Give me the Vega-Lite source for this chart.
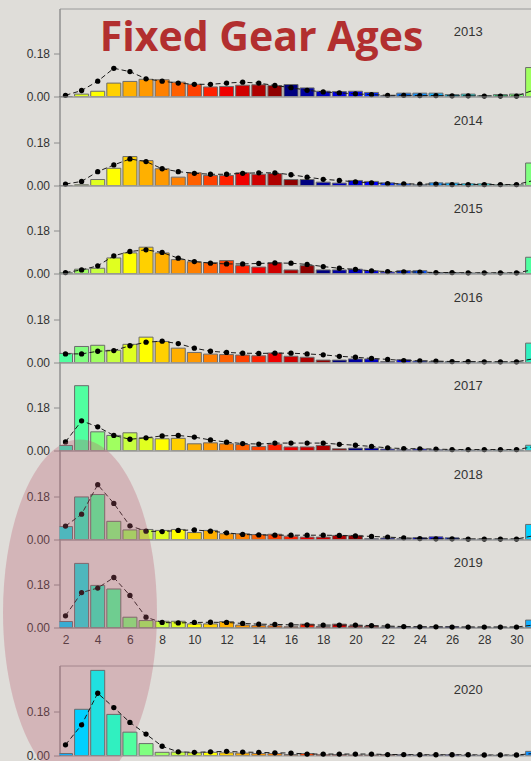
{
"$schema": "https://vega.github.io/schema/vega-lite/v6.json",
"background": "#dfddd9",
"padding": {"left": 2.5, "top": 7.5, "right": 0, "bottom": 0},
"spacing": 0,
"bounds": "flush",
"config": {
  "view": {"stroke": "#9a9a9a", "strokeWidth": 1},
  "axis": {"labelFont": "Liberation Sans", "labelFontSize": 12, "labelColor": "#333333", "domainColor": "#8c8c8c", "tickColor": "#8c8c8c", "grid": false}
},
"datasets": {"ages": [
{"year":2013,"age":2,"cohort":2011,"obs":0.000,"exp":0.005},
{"year":2013,"age":3,"cohort":2010,"obs":0.010,"exp":0.025},
{"year":2013,"age":4,"cohort":2009,"obs":0.022,"exp":0.064},
{"year":2013,"age":5,"cohort":2008,"obs":0.056,"exp":0.118},
{"year":2013,"age":6,"cohort":2007,"obs":0.063,"exp":0.104},
{"year":2013,"age":7,"cohort":2006,"obs":0.072,"exp":0.074},
{"year":2013,"age":8,"cohort":2005,"obs":0.070,"exp":0.064},
{"year":2013,"age":9,"cohort":2004,"obs":0.060,"exp":0.056},
{"year":2013,"age":10,"cohort":2003,"obs":0.051,"exp":0.051},
{"year":2013,"age":11,"cohort":2002,"obs":0.040,"exp":0.051},
{"year":2013,"age":12,"cohort":2001,"obs":0.042,"exp":0.056},
{"year":2013,"age":13,"cohort":2000,"obs":0.047,"exp":0.060},
{"year":2013,"age":14,"cohort":1999,"obs":0.049,"exp":0.056},
{"year":2013,"age":15,"cohort":1998,"obs":0.046,"exp":0.046},
{"year":2013,"age":16,"cohort":1997,"obs":0.050,"exp":0.037},
{"year":2013,"age":17,"cohort":1996,"obs":0.036,"exp":0.026},
{"year":2013,"age":18,"cohort":1995,"obs":0.022,"exp":0.019},
{"year":2013,"age":19,"cohort":1994,"obs":0.021,"exp":0.015},
{"year":2013,"age":20,"cohort":1993,"obs":0.022,"exp":0.011},
{"year":2013,"age":21,"cohort":1992,"obs":0.017,"exp":0.008},
{"year":2013,"age":22,"cohort":1991,"obs":0.004,"exp":0.005},
{"year":2013,"age":23,"cohort":1990,"obs":0.014,"exp":0.005},
{"year":2013,"age":24,"cohort":1989,"obs":0.014,"exp":0.004},
{"year":2013,"age":25,"cohort":1988,"obs":0.014,"exp":0.004},
{"year":2013,"age":26,"cohort":1987,"obs":0.008,"exp":0.003},
{"year":2013,"age":27,"cohort":1986,"obs":0.010,"exp":0.003},
{"year":2013,"age":28,"cohort":1985,"obs":0.003,"exp":0.002},
{"year":2013,"age":29,"cohort":1984,"obs":0.008,"exp":0.002},
{"year":2013,"age":30,"cohort":1983,"obs":0.010,"exp":0.002},
{"year":2013,"age":31,"cohort":1982,"obs":0.121,"exp":0.025},
{"year":2014,"age":2,"cohort":2012,"obs":0.000,"exp":0.006},
{"year":2014,"age":3,"cohort":2011,"obs":0.003,"exp":0.017},
{"year":2014,"age":4,"cohort":2010,"obs":0.025,"exp":0.058},
{"year":2014,"age":5,"cohort":2009,"obs":0.072,"exp":0.086},
{"year":2014,"age":6,"cohort":2008,"obs":0.121,"exp":0.111},
{"year":2014,"age":7,"cohort":2007,"obs":0.104,"exp":0.100},
{"year":2014,"age":8,"cohort":2006,"obs":0.070,"exp":0.070},
{"year":2014,"age":9,"cohort":2005,"obs":0.035,"exp":0.058},
{"year":2014,"age":10,"cohort":2004,"obs":0.053,"exp":0.051},
{"year":2014,"age":11,"cohort":2003,"obs":0.042,"exp":0.047},
{"year":2014,"age":12,"cohort":2002,"obs":0.042,"exp":0.047},
{"year":2014,"age":13,"cohort":2001,"obs":0.053,"exp":0.051},
{"year":2014,"age":14,"cohort":2000,"obs":0.047,"exp":0.053},
{"year":2014,"age":15,"cohort":1999,"obs":0.050,"exp":0.053},
{"year":2014,"age":16,"cohort":1998,"obs":0.025,"exp":0.045},
{"year":2014,"age":17,"cohort":1997,"obs":0.025,"exp":0.035},
{"year":2014,"age":18,"cohort":1996,"obs":0.014,"exp":0.026},
{"year":2014,"age":19,"cohort":1995,"obs":0.010,"exp":0.021},
{"year":2014,"age":20,"cohort":1994,"obs":0.021,"exp":0.015},
{"year":2014,"age":21,"cohort":1993,"obs":0.017,"exp":0.011},
{"year":2014,"age":22,"cohort":1992,"obs":0.011,"exp":0.008},
{"year":2014,"age":23,"cohort":1991,"obs":0.007,"exp":0.007},
{"year":2014,"age":24,"cohort":1990,"obs":0.003,"exp":0.006},
{"year":2014,"age":25,"cohort":1989,"obs":0.011,"exp":0.006},
{"year":2014,"age":26,"cohort":1988,"obs":0.010,"exp":0.004},
{"year":2014,"age":27,"cohort":1987,"obs":0.007,"exp":0.004},
{"year":2014,"age":28,"cohort":1986,"obs":0.007,"exp":0.004},
{"year":2014,"age":29,"cohort":1985,"obs":0.003,"exp":0.004},
{"year":2014,"age":30,"cohort":1984,"obs":0.003,"exp":0.004},
{"year":2014,"age":31,"cohort":1983,"obs":0.094,"exp":0.020},
{"year":2015,"age":2,"cohort":2013,"obs":0.003,"exp":0.004},
{"year":2015,"age":3,"cohort":2012,"obs":0.018,"exp":0.015},
{"year":2015,"age":4,"cohort":2011,"obs":0.022,"exp":0.032},
{"year":2015,"age":5,"cohort":2010,"obs":0.065,"exp":0.074},
{"year":2015,"age":6,"cohort":2009,"obs":0.086,"exp":0.092},
{"year":2015,"age":7,"cohort":2008,"obs":0.110,"exp":0.099},
{"year":2015,"age":8,"cohort":2007,"obs":0.086,"exp":0.088},
{"year":2015,"age":9,"cohort":2006,"obs":0.058,"exp":0.064},
{"year":2015,"age":10,"cohort":2005,"obs":0.049,"exp":0.050},
{"year":2015,"age":11,"cohort":2004,"obs":0.046,"exp":0.043},
{"year":2015,"age":12,"cohort":2003,"obs":0.054,"exp":0.040},
{"year":2015,"age":13,"cohort":2002,"obs":0.033,"exp":0.040},
{"year":2015,"age":14,"cohort":2001,"obs":0.027,"exp":0.042},
{"year":2015,"age":15,"cohort":2000,"obs":0.045,"exp":0.044},
{"year":2015,"age":16,"cohort":1999,"obs":0.015,"exp":0.043},
{"year":2015,"age":17,"cohort":1998,"obs":0.033,"exp":0.038},
{"year":2015,"age":18,"cohort":1997,"obs":0.015,"exp":0.029},
{"year":2015,"age":19,"cohort":1996,"obs":0.015,"exp":0.022},
{"year":2015,"age":20,"cohort":1995,"obs":0.018,"exp":0.017},
{"year":2015,"age":21,"cohort":1994,"obs":0.012,"exp":0.011},
{"year":2015,"age":22,"cohort":1993,"obs":0.006,"exp":0.008},
{"year":2015,"age":23,"cohort":1992,"obs":0.012,"exp":0.007},
{"year":2015,"age":24,"cohort":1991,"obs":0.012,"exp":0.006},
{"year":2015,"age":25,"cohort":1990,"obs":0.004,"exp":0.004},
{"year":2015,"age":26,"cohort":1989,"obs":0.004,"exp":0.004},
{"year":2015,"age":27,"cohort":1988,"obs":0.002,"exp":0.003},
{"year":2015,"age":28,"cohort":1987,"obs":0.002,"exp":0.003},
{"year":2015,"age":29,"cohort":1986,"obs":0.002,"exp":0.003},
{"year":2015,"age":30,"cohort":1985,"obs":0.002,"exp":0.003},
{"year":2015,"age":31,"cohort":1984,"obs":0.068,"exp":0.015},
{"year":2016,"age":2,"cohort":2014,"obs":0.038,"exp":0.036},
{"year":2016,"age":3,"cohort":2013,"obs":0.067,"exp":0.036},
{"year":2016,"age":4,"cohort":2012,"obs":0.072,"exp":0.047},
{"year":2016,"age":5,"cohort":2011,"obs":0.051,"exp":0.050},
{"year":2016,"age":6,"cohort":2010,"obs":0.076,"exp":0.070},
{"year":2016,"age":7,"cohort":2009,"obs":0.106,"exp":0.085},
{"year":2016,"age":8,"cohort":2008,"obs":0.088,"exp":0.089},
{"year":2016,"age":9,"cohort":2007,"obs":0.060,"exp":0.079},
{"year":2016,"age":10,"cohort":2006,"obs":0.042,"exp":0.060},
{"year":2016,"age":11,"cohort":2005,"obs":0.035,"exp":0.047},
{"year":2016,"age":12,"cohort":2004,"obs":0.033,"exp":0.042},
{"year":2016,"age":13,"cohort":2003,"obs":0.031,"exp":0.039},
{"year":2016,"age":14,"cohort":2002,"obs":0.028,"exp":0.038},
{"year":2016,"age":15,"cohort":2001,"obs":0.040,"exp":0.039},
{"year":2016,"age":16,"cohort":2000,"obs":0.026,"exp":0.039},
{"year":2016,"age":17,"cohort":1999,"obs":0.022,"exp":0.036},
{"year":2016,"age":18,"cohort":1998,"obs":0.010,"exp":0.032},
{"year":2016,"age":19,"cohort":1997,"obs":0.010,"exp":0.026},
{"year":2016,"age":20,"cohort":1996,"obs":0.015,"exp":0.022},
{"year":2016,"age":21,"cohort":1995,"obs":0.015,"exp":0.017},
{"year":2016,"age":22,"cohort":1994,"obs":0.004,"exp":0.013},
{"year":2016,"age":23,"cohort":1993,"obs":0.012,"exp":0.008},
{"year":2016,"age":24,"cohort":1992,"obs":0.006,"exp":0.007},
{"year":2016,"age":25,"cohort":1991,"obs":0.004,"exp":0.006},
{"year":2016,"age":26,"cohort":1990,"obs":0.003,"exp":0.004},
{"year":2016,"age":27,"cohort":1989,"obs":0.002,"exp":0.004},
{"year":2016,"age":28,"cohort":1988,"obs":0.002,"exp":0.003},
{"year":2016,"age":29,"cohort":1987,"obs":0.002,"exp":0.003},
{"year":2016,"age":30,"cohort":1986,"obs":0.002,"exp":0.003},
{"year":2016,"age":31,"cohort":1985,"obs":0.081,"exp":0.015},
{"year":2017,"age":2,"cohort":2015,"obs":0.021,"exp":0.036},
{"year":2017,"age":3,"cohort":2014,"obs":0.271,"exp":0.124},
{"year":2017,"age":4,"cohort":2013,"obs":0.078,"exp":0.099},
{"year":2017,"age":5,"cohort":2012,"obs":0.063,"exp":0.063},
{"year":2017,"age":6,"cohort":2011,"obs":0.074,"exp":0.047},
{"year":2017,"age":7,"cohort":2010,"obs":0.053,"exp":0.053},
{"year":2017,"age":8,"cohort":2009,"obs":0.049,"exp":0.061},
{"year":2017,"age":9,"cohort":2008,"obs":0.051,"exp":0.063},
{"year":2017,"age":10,"cohort":2007,"obs":0.028,"exp":0.056},
{"year":2017,"age":11,"cohort":2006,"obs":0.032,"exp":0.044},
{"year":2017,"age":12,"cohort":2005,"obs":0.028,"exp":0.035},
{"year":2017,"age":13,"cohort":2004,"obs":0.025,"exp":0.029},
{"year":2017,"age":14,"cohort":2003,"obs":0.017,"exp":0.027},
{"year":2017,"age":15,"cohort":2002,"obs":0.026,"exp":0.031},
{"year":2017,"age":16,"cohort":2001,"obs":0.015,"exp":0.031},
{"year":2017,"age":17,"cohort":2000,"obs":0.015,"exp":0.031},
{"year":2017,"age":18,"cohort":1999,"obs":0.021,"exp":0.031},
{"year":2017,"age":19,"cohort":1998,"obs":0.007,"exp":0.026},
{"year":2017,"age":20,"cohort":1997,"obs":0.010,"exp":0.022},
{"year":2017,"age":21,"cohort":1996,"obs":0.010,"exp":0.017},
{"year":2017,"age":22,"cohort":1995,"obs":0.006,"exp":0.011},
{"year":2017,"age":23,"cohort":1994,"obs":0.003,"exp":0.008},
{"year":2017,"age":24,"cohort":1993,"obs":0.006,"exp":0.007},
{"year":2017,"age":25,"cohort":1992,"obs":0.003,"exp":0.006},
{"year":2017,"age":26,"cohort":1991,"obs":0.002,"exp":0.004},
{"year":2017,"age":27,"cohort":1990,"obs":0.002,"exp":0.004},
{"year":2017,"age":28,"cohort":1989,"obs":0.002,"exp":0.004},
{"year":2017,"age":29,"cohort":1988,"obs":0.002,"exp":0.004},
{"year":2017,"age":30,"cohort":1987,"obs":0.002,"exp":0.004},
{"year":2017,"age":31,"cohort":1986,"obs":0.022,"exp":0.015},
{"year":2018,"age":2,"cohort":2016,"obs":0.054,"exp":0.056},
{"year":2018,"age":3,"cohort":2015,"obs":0.178,"exp":0.106},
{"year":2018,"age":4,"cohort":2014,"obs":0.188,"exp":0.229},
{"year":2018,"age":5,"cohort":2013,"obs":0.076,"exp":0.151},
{"year":2018,"age":6,"cohort":2012,"obs":0.040,"exp":0.057},
{"year":2018,"age":7,"cohort":2011,"obs":0.042,"exp":0.035},
{"year":2018,"age":8,"cohort":2010,"obs":0.038,"exp":0.033},
{"year":2018,"age":9,"cohort":2009,"obs":0.042,"exp":0.038},
{"year":2018,"age":10,"cohort":2008,"obs":0.029,"exp":0.040},
{"year":2018,"age":11,"cohort":2007,"obs":0.038,"exp":0.035},
{"year":2018,"age":12,"cohort":2006,"obs":0.024,"exp":0.028},
{"year":2018,"age":13,"cohort":2005,"obs":0.024,"exp":0.021},
{"year":2018,"age":14,"cohort":2004,"obs":0.021,"exp":0.019},
{"year":2018,"age":15,"cohort":2003,"obs":0.022,"exp":0.018},
{"year":2018,"age":16,"cohort":2002,"obs":0.014,"exp":0.018},
{"year":2018,"age":17,"cohort":2001,"obs":0.010,"exp":0.018},
{"year":2018,"age":18,"cohort":2000,"obs":0.010,"exp":0.018},
{"year":2018,"age":19,"cohort":1999,"obs":0.017,"exp":0.017},
{"year":2018,"age":20,"cohort":1998,"obs":0.017,"exp":0.015},
{"year":2018,"age":21,"cohort":1997,"obs":0.003,"exp":0.013},
{"year":2018,"age":22,"cohort":1996,"obs":0.006,"exp":0.010},
{"year":2018,"age":23,"cohort":1995,"obs":0.003,"exp":0.007},
{"year":2018,"age":24,"cohort":1994,"obs":0.008,"exp":0.004},
{"year":2018,"age":25,"cohort":1993,"obs":0.011,"exp":0.003},
{"year":2018,"age":26,"cohort":1992,"obs":0.007,"exp":0.003},
{"year":2018,"age":27,"cohort":1991,"obs":0.002,"exp":0.002},
{"year":2018,"age":28,"cohort":1990,"obs":0.002,"exp":0.002},
{"year":2018,"age":29,"cohort":1989,"obs":0.002,"exp":0.002},
{"year":2018,"age":30,"cohort":1988,"obs":0.002,"exp":0.002},
{"year":2018,"age":31,"cohort":1987,"obs":0.063,"exp":0.015},
{"year":2019,"age":2,"cohort":2017,"obs":0.025,"exp":0.049},
{"year":2019,"age":3,"cohort":2016,"obs":0.268,"exp":0.146},
{"year":2019,"age":4,"cohort":2015,"obs":0.176,"exp":0.165},
{"year":2019,"age":5,"cohort":2014,"obs":0.161,"exp":0.209},
{"year":2019,"age":6,"cohort":2013,"obs":0.043,"exp":0.134},
{"year":2019,"age":7,"cohort":2012,"obs":0.029,"exp":0.043},
{"year":2019,"age":8,"cohort":2011,"obs":0.026,"exp":0.021},
{"year":2019,"age":9,"cohort":2010,"obs":0.026,"exp":0.019},
{"year":2019,"age":10,"cohort":2009,"obs":0.015,"exp":0.021},
{"year":2019,"age":11,"cohort":2008,"obs":0.015,"exp":0.022},
{"year":2019,"age":12,"cohort":2007,"obs":0.025,"exp":0.021},
{"year":2019,"age":13,"cohort":2006,"obs":0.010,"exp":0.017},
{"year":2019,"age":14,"cohort":2005,"obs":0.008,"exp":0.014},
{"year":2019,"age":15,"cohort":2004,"obs":0.007,"exp":0.013},
{"year":2019,"age":16,"cohort":2003,"obs":0.003,"exp":0.011},
{"year":2019,"age":17,"cohort":2002,"obs":0.014,"exp":0.011},
{"year":2019,"age":18,"cohort":2001,"obs":0.004,"exp":0.010},
{"year":2019,"age":19,"cohort":2000,"obs":0.014,"exp":0.010},
{"year":2019,"age":20,"cohort":1999,"obs":0.006,"exp":0.010},
{"year":2019,"age":21,"cohort":1998,"obs":0.006,"exp":0.008},
{"year":2019,"age":22,"cohort":1997,"obs":0.002,"exp":0.006},
{"year":2019,"age":23,"cohort":1996,"obs":0.002,"exp":0.004},
{"year":2019,"age":24,"cohort":1995,"obs":0.002,"exp":0.003},
{"year":2019,"age":25,"cohort":1994,"obs":0.002,"exp":0.003},
{"year":2019,"age":26,"cohort":1993,"obs":0.003,"exp":0.002},
{"year":2019,"age":27,"cohort":1992,"obs":0.001,"exp":0.002},
{"year":2019,"age":28,"cohort":1991,"obs":0.001,"exp":0.002},
{"year":2019,"age":29,"cohort":1990,"obs":0.001,"exp":0.002},
{"year":2019,"age":30,"cohort":1989,"obs":0.001,"exp":0.002},
{"year":2019,"age":31,"cohort":1988,"obs":0.031,"exp":0.010},
{"year":2020,"age":2,"cohort":2018,"obs":0.008,"exp":0.044},
{"year":2020,"age":3,"cohort":2017,"obs":0.190,"exp":0.126},
{"year":2020,"age":4,"cohort":2016,"obs":0.350,"exp":0.256},
{"year":2020,"age":5,"cohort":2015,"obs":0.169,"exp":0.197},
{"year":2020,"age":6,"cohort":2014,"obs":0.096,"exp":0.136},
{"year":2020,"age":7,"cohort":2013,"obs":0.049,"exp":0.088},
{"year":2020,"age":8,"cohort":2012,"obs":0.013,"exp":0.038},
{"year":2020,"age":9,"cohort":2011,"obs":0.014,"exp":0.015},
{"year":2020,"age":10,"cohort":2010,"obs":0.011,"exp":0.013},
{"year":2020,"age":11,"cohort":2009,"obs":0.013,"exp":0.015},
{"year":2020,"age":12,"cohort":2008,"obs":0.011,"exp":0.017},
{"year":2020,"age":13,"cohort":2007,"obs":0.010,"exp":0.014},
{"year":2020,"age":14,"cohort":2006,"obs":0.008,"exp":0.013},
{"year":2020,"age":15,"cohort":2005,"obs":0.008,"exp":0.011},
{"year":2020,"age":16,"cohort":2004,"obs":0.004,"exp":0.010},
{"year":2020,"age":17,"cohort":2003,"obs":0.008,"exp":0.006},
{"year":2020,"age":18,"cohort":2002,"obs":0.003,"exp":0.006},
{"year":2020,"age":19,"cohort":2001,"obs":0.004,"exp":0.006},
{"year":2020,"age":20,"cohort":2000,"obs":0.002,"exp":0.006},
{"year":2020,"age":21,"cohort":1999,"obs":0.002,"exp":0.006},
{"year":2020,"age":22,"cohort":1998,"obs":0.004,"exp":0.004},
{"year":2020,"age":23,"cohort":1997,"obs":0.003,"exp":0.004},
{"year":2020,"age":24,"cohort":1996,"obs":0.002,"exp":0.003},
{"year":2020,"age":25,"cohort":1995,"obs":0.002,"exp":0.003},
{"year":2020,"age":26,"cohort":1994,"obs":0.003,"exp":0.003},
{"year":2020,"age":27,"cohort":1993,"obs":0.001,"exp":0.003},
{"year":2020,"age":28,"cohort":1992,"obs":0.001,"exp":0.002},
{"year":2020,"age":29,"cohort":1991,"obs":0.001,"exp":0.002},
{"year":2020,"age":30,"cohort":1990,"obs":0.001,"exp":0.002},
{"year":2020,"age":31,"cohort":1989,"obs":0.017,"exp":0.008}
]},
"resolve": {"scale": {"color": "shared"}},
"vconcat": [
{"data": {"name": "ages"}, "transform": [{"filter": "datum.year == 2013"}], "width": 471.5, "height": 88, "resolve": {"axis": {"x": "independent", "y": "independent"}}, "layer": [
 {"mark": {"type": "bar", "orient": "vertical", "size": 14, "stroke": "#6b6b6b", "strokeWidth": 1, "clip": true}, "encoding": {"x": {"field": "age", "type": "quantitative", "scale": {"domain": [1.6275, 30.9], "nice": false, "zero": false, "padding": 0}, "axis": null}, "y": {"field": "obs", "type": "quantitative", "scale": {"domain": [0, 0.3679], "nice": false}, "axis": {"values": [0, 0.18], "format": ".2f", "tickSize": 6, "labelPadding": 4, "title": null}}, "color": {"field": "cohort", "type": "ordinal", "legend": null, "scale": {"range": ["#a0ff60","#80ff80","#50ffa0","#30f0c0","#20e0e0","#00d0ff","#10b0ff","#1090ff","#0070ff","#0050ff","#0028ff","#0000ff","#0000e0","#0000c0","#0000a0","#000080","#900000","#b00000","#d00000","#f00000","#ff2000","#ff4000","#ff6000","#ff8000","#ff9900","#ffb000","#ffd000","#ffff00","#e0ff20","#c8ff40","#a0ff60","#80ff80","#50ffa0","#30f0c0","#20e0e0","#00d0ff","#10b0ff"]}}}},
 {"mark": {"type": "line", "color": "#1a1a1a", "strokeWidth": 1, "strokeDash": [5, 3], "clip": true}, "encoding": {"x": {"field": "age", "type": "quantitative", "axis": null}, "y": {"field": "exp", "type": "quantitative", "axis": null}, "order": {"field": "age", "type": "quantitative"}}},
 {"transform": [{"filter": "datum.age <= 30"}], "mark": {"type": "circle", "color": "#000000", "size": 28, "opacity": 1}, "encoding": {"x": {"field": "age", "type": "quantitative", "axis": null}, "y": {"field": "exp", "type": "quantitative", "axis": null}}},
 {"transform": [{"filter": "datum.age == 2"}], "mark": {"type": "text", "font": "Liberation Sans", "fontSize": 13, "color": "#333333", "align": "center", "baseline": "alphabetic"}, "encoding": {"x": {"datum": 27, "axis": null}, "y": {"datum": 0.254, "axis": null}, "text": {"field": "year", "type": "nominal"}}},
 {"transform": [{"filter": "datum.age == 2"}], "mark": {"type": "text", "text": "Fixed Gear Ages", "font": "Open Sans", "fontWeight": "bold", "fontSize": 41, "color": "#b22f2f", "align": "center", "baseline": "alphabetic"}, "encoding": {"x": {"datum": 14.17, "axis": null}, "y": {"datum": 0.1915, "axis": null}}}
]},
{"data": {"name": "ages"}, "transform": [{"filter": "datum.year == 2014"}], "width": 471.5, "height": 89, "resolve": {"axis": {"x": "independent", "y": "independent"}}, "layer": [
 {"mark": {"type": "bar", "orient": "vertical", "size": 14, "stroke": "#6b6b6b", "strokeWidth": 1, "clip": true}, "encoding": {"x": {"field": "age", "type": "quantitative", "scale": {"domain": [1.6275, 30.9], "nice": false, "zero": false, "padding": 0}, "axis": null}, "y": {"field": "obs", "type": "quantitative", "scale": {"domain": [0, 0.3721], "nice": false}, "axis": {"values": [0, 0.18], "format": ".2f", "tickSize": 6, "labelPadding": 4, "title": null}}, "color": {"field": "cohort", "type": "ordinal", "legend": null}}},
 {"mark": {"type": "line", "color": "#1a1a1a", "strokeWidth": 1, "strokeDash": [5, 3], "clip": true}, "encoding": {"x": {"field": "age", "type": "quantitative", "axis": null}, "y": {"field": "exp", "type": "quantitative", "axis": null}, "order": {"field": "age", "type": "quantitative"}}},
 {"transform": [{"filter": "datum.age <= 30"}], "mark": {"type": "circle", "color": "#000000", "size": 28, "opacity": 1}, "encoding": {"x": {"field": "age", "type": "quantitative", "axis": null}, "y": {"field": "exp", "type": "quantitative", "axis": null}}},
 {"transform": [{"filter": "datum.age == 2"}], "mark": {"type": "text", "font": "Liberation Sans", "fontSize": 13, "color": "#333333", "align": "center", "baseline": "alphabetic"}, "encoding": {"x": {"datum": 27, "axis": null}, "y": {"datum": 0.254, "axis": null}, "text": {"field": "year", "type": "nominal"}}}
]},
{"data": {"name": "ages"}, "transform": [{"filter": "datum.year == 2015"}], "width": 471.5, "height": 88, "resolve": {"axis": {"x": "independent", "y": "independent"}}, "layer": [
 {"mark": {"type": "bar", "orient": "vertical", "size": 14, "stroke": "#6b6b6b", "strokeWidth": 1, "clip": true}, "encoding": {"x": {"field": "age", "type": "quantitative", "scale": {"domain": [1.6275, 30.9], "nice": false, "zero": false, "padding": 0}, "axis": null}, "y": {"field": "obs", "type": "quantitative", "scale": {"domain": [0, 0.3679], "nice": false}, "axis": {"values": [0, 0.18], "format": ".2f", "tickSize": 6, "labelPadding": 4, "title": null}}, "color": {"field": "cohort", "type": "ordinal", "legend": null}}},
 {"mark": {"type": "line", "color": "#1a1a1a", "strokeWidth": 1, "strokeDash": [5, 3], "clip": true}, "encoding": {"x": {"field": "age", "type": "quantitative", "axis": null}, "y": {"field": "exp", "type": "quantitative", "axis": null}, "order": {"field": "age", "type": "quantitative"}}},
 {"transform": [{"filter": "datum.age <= 30"}], "mark": {"type": "circle", "color": "#000000", "size": 28, "opacity": 1}, "encoding": {"x": {"field": "age", "type": "quantitative", "axis": null}, "y": {"field": "exp", "type": "quantitative", "axis": null}}},
 {"transform": [{"filter": "datum.age == 2"}], "mark": {"type": "text", "font": "Liberation Sans", "fontSize": 13, "color": "#333333", "align": "center", "baseline": "alphabetic"}, "encoding": {"x": {"datum": 27, "axis": null}, "y": {"datum": 0.254, "axis": null}, "text": {"field": "year", "type": "nominal"}}}
]},
{"data": {"name": "ages"}, "transform": [{"filter": "datum.year == 2016"}], "width": 471.5, "height": 89, "resolve": {"axis": {"x": "independent", "y": "independent"}}, "layer": [
 {"mark": {"type": "bar", "orient": "vertical", "size": 14, "stroke": "#6b6b6b", "strokeWidth": 1, "clip": true}, "encoding": {"x": {"field": "age", "type": "quantitative", "scale": {"domain": [1.6275, 30.9], "nice": false, "zero": false, "padding": 0}, "axis": null}, "y": {"field": "obs", "type": "quantitative", "scale": {"domain": [0, 0.3721], "nice": false}, "axis": {"values": [0, 0.18], "format": ".2f", "tickSize": 6, "labelPadding": 4, "title": null}}, "color": {"field": "cohort", "type": "ordinal", "legend": null}}},
 {"mark": {"type": "line", "color": "#1a1a1a", "strokeWidth": 1, "strokeDash": [5, 3], "clip": true}, "encoding": {"x": {"field": "age", "type": "quantitative", "axis": null}, "y": {"field": "exp", "type": "quantitative", "axis": null}, "order": {"field": "age", "type": "quantitative"}}},
 {"transform": [{"filter": "datum.age <= 30"}], "mark": {"type": "circle", "color": "#000000", "size": 28, "opacity": 1}, "encoding": {"x": {"field": "age", "type": "quantitative", "axis": null}, "y": {"field": "exp", "type": "quantitative", "axis": null}}},
 {"transform": [{"filter": "datum.age == 2"}], "mark": {"type": "text", "font": "Liberation Sans", "fontSize": 13, "color": "#333333", "align": "center", "baseline": "alphabetic"}, "encoding": {"x": {"datum": 27, "axis": null}, "y": {"datum": 0.254, "axis": null}, "text": {"field": "year", "type": "nominal"}}}
]},
{"data": {"name": "ages"}, "transform": [{"filter": "datum.year == 2017"}], "width": 471.5, "height": 88, "resolve": {"axis": {"x": "independent", "y": "independent"}}, "layer": [
 {"mark": {"type": "bar", "orient": "vertical", "size": 14, "stroke": "#6b6b6b", "strokeWidth": 1, "clip": true}, "encoding": {"x": {"field": "age", "type": "quantitative", "scale": {"domain": [1.6275, 30.9], "nice": false, "zero": false, "padding": 0}, "axis": null}, "y": {"field": "obs", "type": "quantitative", "scale": {"domain": [0, 0.3679], "nice": false}, "axis": {"values": [0, 0.18], "format": ".2f", "tickSize": 6, "labelPadding": 4, "title": null}}, "color": {"field": "cohort", "type": "ordinal", "legend": null}}},
 {"mark": {"type": "line", "color": "#1a1a1a", "strokeWidth": 1, "strokeDash": [5, 3], "clip": true}, "encoding": {"x": {"field": "age", "type": "quantitative", "axis": null}, "y": {"field": "exp", "type": "quantitative", "axis": null}, "order": {"field": "age", "type": "quantitative"}}},
 {"transform": [{"filter": "datum.age <= 30"}], "mark": {"type": "circle", "color": "#000000", "size": 28, "opacity": 1}, "encoding": {"x": {"field": "age", "type": "quantitative", "axis": null}, "y": {"field": "exp", "type": "quantitative", "axis": null}}},
 {"transform": [{"filter": "datum.age == 2"}], "mark": {"type": "text", "font": "Liberation Sans", "fontSize": 13, "color": "#333333", "align": "center", "baseline": "alphabetic"}, "encoding": {"x": {"datum": 27, "axis": null}, "y": {"datum": 0.254, "axis": null}, "text": {"field": "year", "type": "nominal"}}}
]},
{"data": {"name": "ages"}, "transform": [{"filter": "datum.year == 2018"}], "width": 471.5, "height": 89, "resolve": {"axis": {"x": "independent", "y": "independent"}}, "layer": [
 {"mark": {"type": "bar", "orient": "vertical", "size": 14, "stroke": "#6b6b6b", "strokeWidth": 1, "clip": true}, "encoding": {"x": {"field": "age", "type": "quantitative", "scale": {"domain": [1.6275, 30.9], "nice": false, "zero": false, "padding": 0}, "axis": null}, "y": {"field": "obs", "type": "quantitative", "scale": {"domain": [0, 0.3721], "nice": false}, "axis": {"values": [0, 0.18], "format": ".2f", "tickSize": 6, "labelPadding": 4, "title": null}}, "color": {"field": "cohort", "type": "ordinal", "legend": null}}},
 {"mark": {"type": "line", "color": "#1a1a1a", "strokeWidth": 1, "strokeDash": [5, 3], "clip": true}, "encoding": {"x": {"field": "age", "type": "quantitative", "axis": null}, "y": {"field": "exp", "type": "quantitative", "axis": null}, "order": {"field": "age", "type": "quantitative"}}},
 {"transform": [{"filter": "datum.age <= 30"}], "mark": {"type": "circle", "color": "#000000", "size": 28, "opacity": 1}, "encoding": {"x": {"field": "age", "type": "quantitative", "axis": null}, "y": {"field": "exp", "type": "quantitative", "axis": null}}},
 {"transform": [{"filter": "datum.age == 2"}], "mark": {"type": "text", "font": "Liberation Sans", "fontSize": 13, "color": "#333333", "align": "center", "baseline": "alphabetic"}, "encoding": {"x": {"datum": 27, "axis": null}, "y": {"datum": 0.254, "axis": null}, "text": {"field": "year", "type": "nominal"}}}
]},
{"data": {"name": "ages"}, "transform": [{"filter": "datum.year == 2019"}], "width": 471.5, "height": 88, "resolve": {"axis": {"x": "independent", "y": "independent"}}, "layer": [
 {"mark": {"type": "bar", "orient": "vertical", "size": 14, "stroke": "#6b6b6b", "strokeWidth": 1, "clip": true}, "encoding": {"x": {"field": "age", "type": "quantitative", "scale": {"domain": [1.6275, 30.9], "nice": false, "zero": false, "padding": 0}, "axis": {"values": [2,4,6,8,10,12,14,16,18,20,22,24,26,28,30], "ticks": false, "tickSize": 0, "labelPadding": 7, "title": null}}, "y": {"field": "obs", "type": "quantitative", "scale": {"domain": [0, 0.3679], "nice": false}, "axis": {"values": [0, 0.18], "format": ".2f", "tickSize": 6, "labelPadding": 4, "title": null}}, "color": {"field": "cohort", "type": "ordinal", "legend": null}}},
 {"mark": {"type": "line", "color": "#1a1a1a", "strokeWidth": 1, "strokeDash": [5, 3], "clip": true}, "encoding": {"x": {"field": "age", "type": "quantitative", "axis": null}, "y": {"field": "exp", "type": "quantitative", "axis": null}, "order": {"field": "age", "type": "quantitative"}}},
 {"transform": [{"filter": "datum.age <= 30"}], "mark": {"type": "circle", "color": "#000000", "size": 28, "opacity": 1}, "encoding": {"x": {"field": "age", "type": "quantitative", "axis": null}, "y": {"field": "exp", "type": "quantitative", "axis": null}}},
 {"transform": [{"filter": "datum.age == 2"}], "mark": {"type": "text", "font": "Liberation Sans", "fontSize": 13, "color": "#333333", "align": "center", "baseline": "alphabetic"}, "encoding": {"x": {"datum": 27, "axis": null}, "y": {"datum": 0.254, "axis": null}, "text": {"field": "year", "type": "nominal"}}}
]},
{"data": {"values": [{"s": 1}]}, "width": 471.5, "height": 38, "view": {"stroke": null}, "mark": {"type": "text", "text": " "}},
{"data": {"name": "ages"}, "transform": [{"filter": "datum.year == 2020"}], "width": 471.5, "height": 90, "resolve": {"axis": {"x": "independent", "y": "independent"}}, "layer": [
 {"transform": [{"filter": "datum.age == 2"}], "mark": {"type": "point", "shape": "M -0.445 0 C -0.445 -0.5523 -0.2458 -1 0 -1 C 0.2458 -1 0.445 -0.5523 0.445 0 C 0.445 0.3535 0.3618 0.6812 0.2263 0.861 L -0.2263 0.861 C -0.3618 0.6812 -0.445 0.3535 -0.445 0 Z", "size": 119716, "filled": true, "color": "#b85a6e", "opacity": 0.3, "strokeWidth": 0}, "encoding": {"x": {"datum": 2.9, "axis": null}, "y": {"datum": 0.588, "axis": null}}},
 {"mark": {"type": "bar", "orient": "vertical", "size": 14, "stroke": "#6b6b6b", "strokeWidth": 1, "clip": true}, "encoding": {"x": {"field": "age", "type": "quantitative", "scale": {"domain": [1.6275, 30.9], "nice": false, "zero": false, "padding": 0}, "axis": null}, "y": {"field": "obs", "type": "quantitative", "scale": {"domain": [0, 0.37], "nice": false}, "axis": {"values": [0, 0.18], "format": ".2f", "tickSize": 6, "labelPadding": 4, "title": null}}, "color": {"field": "cohort", "type": "ordinal", "legend": null}}},
 {"mark": {"type": "line", "color": "#1a1a1a", "strokeWidth": 1, "strokeDash": [5, 3], "clip": true}, "encoding": {"x": {"field": "age", "type": "quantitative", "axis": null}, "y": {"field": "exp", "type": "quantitative", "axis": null}, "order": {"field": "age", "type": "quantitative"}}},
 {"transform": [{"filter": "datum.age <= 30"}], "mark": {"type": "circle", "color": "#000000", "size": 28, "opacity": 1}, "encoding": {"x": {"field": "age", "type": "quantitative", "axis": null}, "y": {"field": "exp", "type": "quantitative", "axis": null}}},
 {"transform": [{"filter": "datum.age == 2"}], "mark": {"type": "text", "font": "Liberation Sans", "fontSize": 13, "color": "#333333", "align": "center", "baseline": "alphabetic"}, "encoding": {"x": {"datum": 27, "axis": null}, "y": {"datum": 0.254, "axis": null}, "text": {"field": "year", "type": "nominal"}}}
]}
]
}
